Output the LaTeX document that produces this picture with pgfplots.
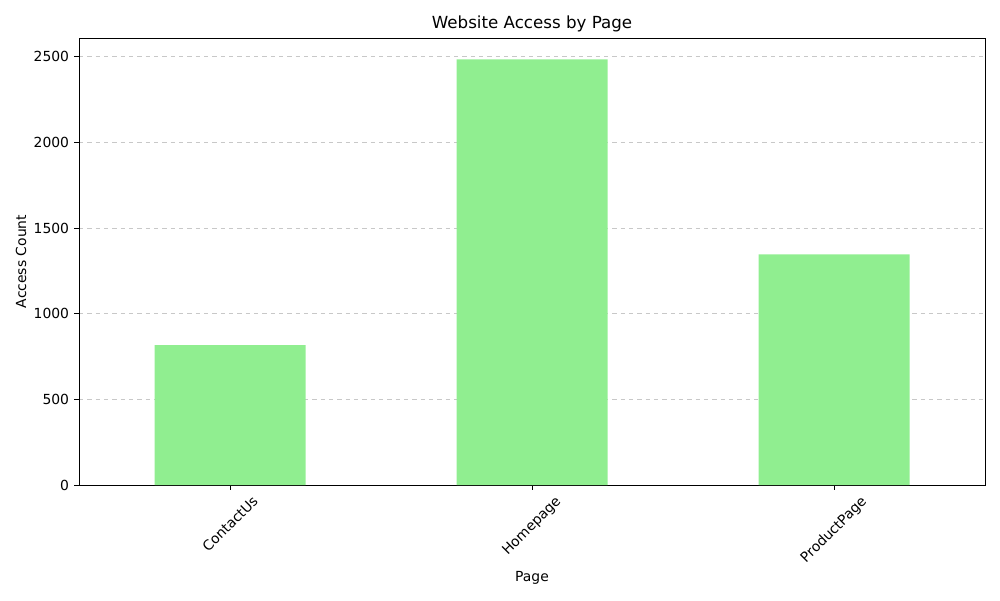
\documentclass[border=0pt]{standalone}
\usepackage{pgfplots}
\pgfplotsset{compat=1.18}
\usepackage{graphicx}
\usepackage{fontspec}
\setmainfont{DejaVu Sans}
\definecolor{barcol}{HTML}{90EE90}
\definecolor{gridcol}{HTML}{C8C8C8}
\begin{document}
\begin{tikzpicture}
\useasboundingbox (-56.9pt,-82.8pt) rectangle (663.1pt,349.2pt);
\begin{axis}[
  scale only axis,
  width=652.3pt, height=321.8pt,
  xmin=-0.5, xmax=2.5,
  ymin=0, ymax=2608,
  xtick={0,1,2},
  xticklabels={\rotatebox{45}{ContactUs},\rotatebox{45}{Homepage},\rotatebox{45}{ProductPage}},
  xticklabel style={anchor=north, inner sep=0pt, yshift=-3.5pt},
  ytick={0,500,1000,1500,2000,2500},
  yticklabel style={anchor=east, inner sep=0pt, xshift=-3.5pt},
  tick align=outside,
  major tick length=3.5pt,
  xtick pos=bottom, ytick pos=left,
  tick style={black, line width=0.6pt},
  axis line style={line width=0.6pt},
  ymajorgrids,
  grid style={gridcol, dashed, line width=0.6pt},
  /pgf/number format/assume math mode=true,
  /pgf/number format/1000 sep={},
  tick label style={font=\fontsize{10pt}{12pt}\selectfont},
  label style={font=\fontsize{10pt}{12pt}\selectfont},
  title style={font=\fontsize{12pt}{14pt}\selectfont, at={([yshift=4.3pt]axis description cs:0.5,1)}, anchor=center},
  title={Website Access by Page},
  xlabel={Page},
  ylabel={Access Count},
  xlabel style={at={([yshift=-67pt]axis description cs:0.5,0)}, anchor=center},
  ylabel style={at={([xshift=-41.8pt]axis description cs:0,0.5)}, anchor=center},
]
\addplot[ybar, bar width=0.5, fill=barcol, draw=none, bar shift=0pt] coordinates {
  (0,816) (1,2484) (2,1346)
};
\end{axis}
\end{tikzpicture}
\end{document}
